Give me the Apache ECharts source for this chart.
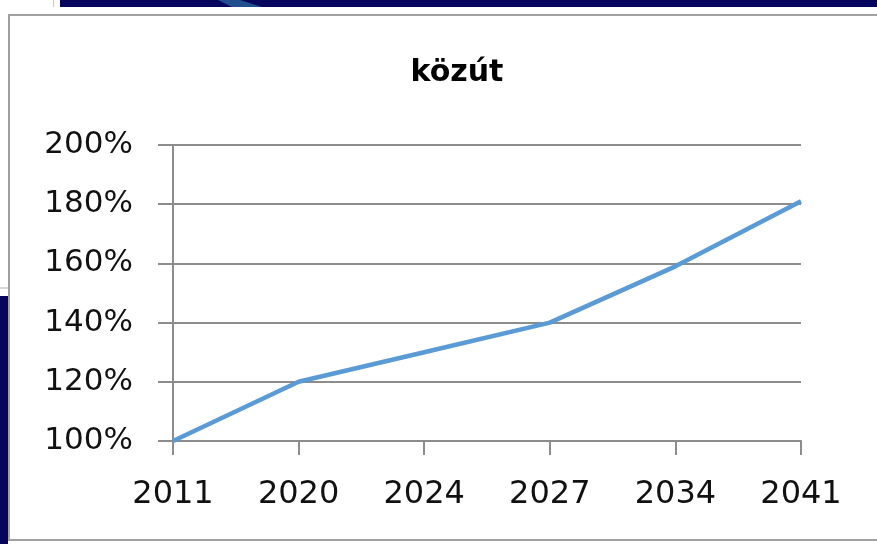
<!DOCTYPE html>
<html>
<head>
<meta charset="utf-8">
<script src="https://cdn.jsdelivr.net/npm/echarts@6/dist/echarts.min.js"></script>
<style>
html,body{margin:0;padding:0;background:#fff;}
#c{width:877px;height:544px;}
</style>
</head>
<body>
<div id="c"></div>
<script>
var titleText = 'közút';
var years = ['2011', '2020', '2024', '2027', '2034', '2041'];
var values = [1.00, 1.20, 1.30, 1.40, 1.59, 1.81];
var yMin = 1.0, yMax = 2.0, yStep = 0.2;

var chart = echarts.init(document.getElementById('c'), null, {renderer: 'canvas'});
chart.setOption({
  backgroundColor: '#ffffff',
  animation: false,
  graphic: [
    {type: 'rect', shape: {x: 60, y: 0, width: 817, height: 7}, style: {fill: '#05055e'}, z: 10},
    {type: 'polygon', shape: {points: [[218, 0], [240, 0], [262, 7], [232, 7]]}, style: {fill: '#1f4f8f'}, z: 11},
    {type: 'rect', shape: {x: 53, y: 0, width: 1, height: 7}, style: {fill: '#c8c8c8'}, z: 10},
    {type: 'rect', shape: {x: 0, y: 296, width: 8, height: 248}, style: {fill: '#05055e'}, z: 10},
    {type: 'rect', shape: {x: 0, y: 287, width: 8, height: 2}, style: {fill: '#d8d8d8'}, z: 10},
    {type: 'rect', shape: {x: 9, y: 15, width: 880, height: 525}, style: {fill: 'none', stroke: '#a0a0a0', lineWidth: 2}, z: 10}
  ],
  title: {
    text: titleText,
    left: 452,
    textAlign: 'center',
    top: 53,
    textStyle: {fontFamily: 'DejaVu Sans', fontWeight: 'bold', fontSize: 30, color: '#000'}
  },
  grid: {left: 173, right: 76, top: 145, bottom: 103, containLabel: false},
  xAxis: {
    type: 'category',
    data: years,
    boundaryGap: false,
    axisLine: {show: true, lineStyle: {color: '#8c8c8c', width: 2}},
    axisTick: {show: true, alignWithLabel: true, length: 14, lineStyle: {color: '#8c8c8c', width: 2}},
    axisLabel: {margin: 38, fontFamily: 'DejaVu Sans', fontSize: 32, color: '#111'},
    splitLine: {show: false}
  },
  yAxis: {
    type: 'value',
    min: yMin, max: yMax, interval: yStep,
    axisLine: {show: true, lineStyle: {color: '#8c8c8c', width: 2}},
    axisTick: {show: true, length: 15, lineStyle: {color: '#8c8c8c', width: 2}},
    axisLabel: {
      margin: 40, fontFamily: 'DejaVu Sans', fontSize: 31, color: '#111',
      formatter: function (v) { return Math.round(v * 100) + '%'; }
    },
    splitLine: {show: true, lineStyle: {color: '#8c8c8c', width: 2}}
  },
  series: [{
    type: 'line',
    data: values,
    symbol: 'none',
    lineStyle: {color: '#5b9bd5', width: 4.5},
    z: 5
  }]
});
</script>
</body>
</html>
